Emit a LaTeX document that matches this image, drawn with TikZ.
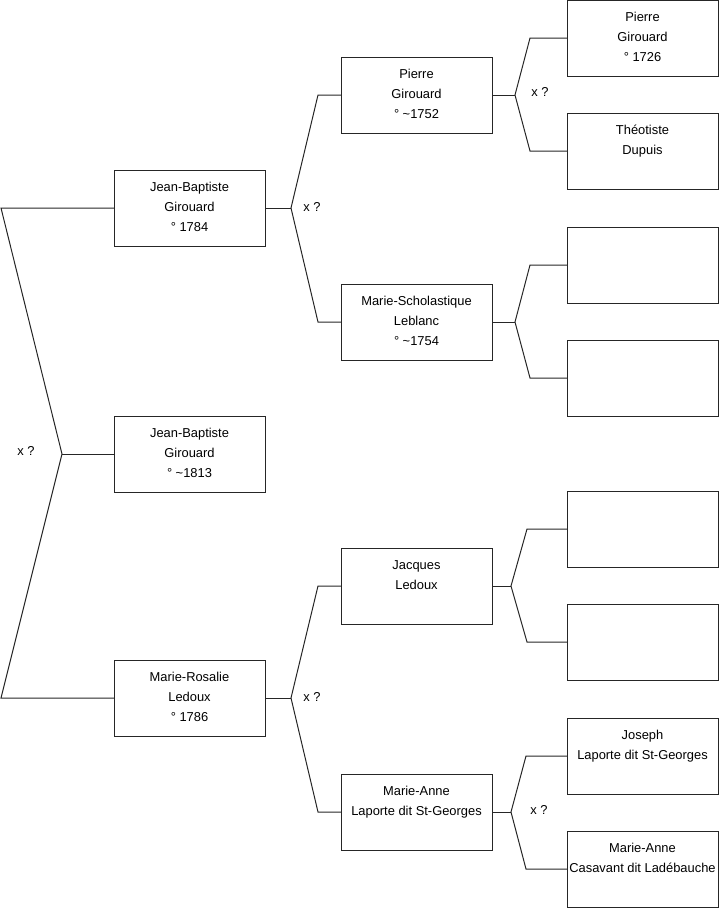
\documentclass[tikz,border=0pt]{standalone}
\usepackage{fontspec}
\setmainfont{Liberation Sans}
\newcommand{\persontext}[1]{\parbox[t][76pt][t]{151pt}{\centering\rule{0pt}{21.7pt}#1}}
\tikzset{
  person/.style={draw=black!85, line width=1pt, inner sep=0pt, outer sep=0pt, anchor=north west,
    font=\fontsize{12.9pt}{19.7pt}\selectfont},
  link/.style={draw=black!85, line width=1pt},
  xlabel/.style={font=\fontsize{12.9pt}{15pt}\selectfont, inner sep=0pt}
}
\begin{document}
\begin{tikzpicture}[x=1pt,y=-1pt]
\useasboundingbox (0,0) rectangle (719,908);
% column 1
\node[person] (jb1) at (114,170) {\persontext{Jean-Baptiste\\Girouard\\° 1784}};
\node[person] (jb2) at (114,416) {\persontext{Jean-Baptiste\\Girouard\\° \textasciitilde1813}};
\node[person] (mr)  at (114,660) {\persontext{Marie-Rosalie\\Ledoux\\° 1786}};
% column 2
\node[person] (pg) at (341,57)  {\persontext{Pierre\\Girouard\\° \textasciitilde1752}};
\node[person] (ms) at (341,284) {\persontext{Marie-Scholastique\\Leblanc\\° \textasciitilde1754}};
\node[person] (jl) at (341,548) {\persontext{Jacques\\Ledoux}};
\node[person] (ma) at (341,774) {\persontext{Marie-Anne\\Laporte dit St-Georges}};
% column 3
\node[person] (p1)  at (567,0)   {\persontext{Pierre\\Girouard\\° 1726}};
\node[person] (td)  at (567,113) {\persontext{Théotiste\\Dupuis}};
\node[person] (e1)  at (567,227) {\persontext{}};
\node[person] (e2)  at (567,340) {\persontext{}};
\node[person] (e3)  at (567,491) {\persontext{}};
\node[person] (e4)  at (567,604) {\persontext{}};
\node[person] (jo)  at (567,718) {\persontext{Joseph\\Laporte dit St-Georges}};
\node[person] (mc)  at (567,831) {\persontext{Marie-Anne\\Casavant dit Ladébauche}};

% root fork
\coordinate (r0) at (1,208);
\coordinate (r1) at (62,454);
\coordinate (r2) at (1,698);
\draw[link] (jb1.west) -- (r0) -- (r1) -- (r2) -- (mr.west);
\draw[link] (r1) -- (jb2.west);
\node[xlabel] (x0) at (26,451) {x ?};

% fork jb1
\coordinate (a0) at (291,208);
\coordinate (a1) at (318,95);
\coordinate (a2) at (318,322);
\draw[link] (jb1.east) -- (a0);
\draw[link] (pg.west) -- (a1) -- (a0) -- (a2) -- (ms.west);
\node[xlabel] (x1) at (312,207) {x ?};

% fork mr
\coordinate (b0) at (291,698);
\coordinate (b1) at (318,586);
\coordinate (b2) at (318,812);
\draw[link] (mr.east) -- (b0);
\draw[link] (jl.west) -- (b1) -- (b0) -- (b2) -- (ma.west);
\node[xlabel] (x2) at (312,697) {x ?};

% fork pg
\coordinate (c0) at (515,95);
\coordinate (c1) at (530,38);
\coordinate (c2) at (530,151);
\draw[link] (pg.east) -- (c0);
\draw[link] (p1.west) -- (c1) -- (c0) -- (c2) -- (td.west);
\node[xlabel] (x3) at (540,92) {x ?};

% fork ms
\coordinate (d0) at (515,322);
\coordinate (d1) at (530,265);
\coordinate (d2) at (530,378);
\draw[link] (ms.east) -- (d0);
\draw[link] (e1.west) -- (d1) -- (d0) -- (d2) -- (e2.west);

% fork jl
\coordinate (f0) at (511,586);
\coordinate (f1) at (527,529);
\coordinate (f2) at (527,642);
\draw[link] (jl.east) -- (f0);
\draw[link] (e3.west) -- (f1) -- (f0) -- (f2) -- (e4.west);

% fork ma
\coordinate (g0) at (511,812);
\coordinate (g1) at (526,756);
\coordinate (g2) at (526,869);
\draw[link] (ma.east) -- (g0);
\draw[link] (jo.west) -- (g1) -- (g0) -- (g2) -- (mc.west);
\node[xlabel] (x4) at (539,810) {x ?};
\end{tikzpicture}
\end{document}
